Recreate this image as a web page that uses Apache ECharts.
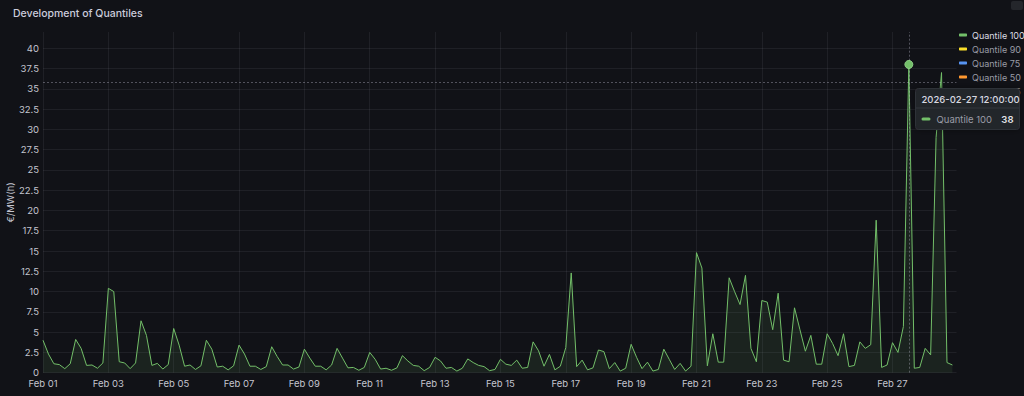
<!DOCTYPE html>
<html><head><meta charset="utf-8">
<script src="https://cdn.jsdelivr.net/npm/echarts@6/dist/echarts.min.js"></script>
<style>html,body{margin:0;padding:0;background:#111217;}#c{width:1024px;height:396px;}</style>
</head><body><div id="c"></div>
<script>
const seriesNames = ['Quantile 100', 'Quantile 90', 'Quantile 75', 'Quantile 50', 'Quantile 25'];
const seriesColors = ['#73BF69', '#FADE2A', '#5794F2', '#FF9830', '#F2495C'];
const stepHours = 4;
// Quantile 100, one value every 4 hours from 2026-02-01 00:00
const q100 = [
  4.0, 2.3, 1.1, 1.0, 0.5, 1.1,
  4.1, 3.0, 0.9, 0.95, 0.55, 1.2,
  10.4, 10.0, 1.35, 1.2, 0.5, 1.2,
  6.4, 4.6, 0.9, 1.15, 0.45, 1.0,
  5.45, 3.4, 0.8, 0.95, 0.4, 0.85,
  4.0, 2.9, 0.7, 0.8, 0.35, 0.85,
  3.4, 2.3, 0.8, 0.8, 0.4, 0.75,
  3.2, 2.0, 0.95, 0.95, 0.45, 0.7,
  2.9, 1.8, 0.8, 0.8, 0.35, 0.95,
  3.0, 1.8, 0.6, 0.65, 0.3, 0.65,
  2.5, 1.65, 0.45, 0.55, 0.3, 0.6,
  2.1, 1.45, 0.9, 0.8, 0.25, 0.65,
  1.9, 1.45, 0.55, 0.65, 0.2, 0.55,
  1.7, 1.25, 0.9, 0.75, 0.25, 0.4,
  1.65, 1.05, 0.9, 1.55, 0.55, 0.65,
  3.8, 2.7, 0.8, 2.25, 0.35, 0.8,
  3.1, 12.3, 0.75, 1.55, 0.35, 0.6,
  2.8, 2.6, 0.5, 1.25, 0.2, 0.55,
  3.5, 1.9, 0.5, 1.3, 0.2, 0.4,
  2.9, 1.65, 0.4, 1.15, 0.2, 0.8,
  14.8, 12.9, 0.85, 4.8, 1.3, 1.3,
  11.7, 10.0, 8.4, 12.0, 3.0, 1.35,
  8.9, 8.7, 5.3, 9.8, 1.55, 1.35,
  8.0, 5.3, 2.65, 4.6, 1.05, 1.05,
  4.8, 3.6, 2.1, 4.8, 0.75, 0.9,
  3.8, 3.0, 3.45, 18.8, 0.65, 0.95,
  3.7, 2.5, 5.7, 38, 0.55, 0.65,
  3.0, 2.2, 29, 37, 1.25, 0.95
];
const xTickHours = [0, 48, 96, 144, 192, 240, 288, 336, 384, 432, 480, 528, 576, 624];
const xTickLabels = ['Feb 01', 'Feb 03', 'Feb 05', 'Feb 07', 'Feb 09', 'Feb 11', 'Feb 13', 'Feb 15', 'Feb 17', 'Feb 19', 'Feb 21', 'Feb 23', 'Feb 25', 'Feb 27'];
const yTicks = [0, 2.5, 5, 7.5, 10, 12.5, 15, 17.5, 20, 22.5, 25, 27.5, 30, 32.5, 35, 37.5, 40];
const xAxisMaxHours = 671;
const yAxisMax = 42;
const hoverIndex = 159;
const hoverTimeLabel = '2026-02-27 12:00:00';
const cursorYValue = 35.8;

const FONT = 'Inter, "Noto Sans", sans-serif';
const labelColor = '#c4c5cf';
const gridColor = 'rgba(204,204,220,0.08)';

const chart = echarts.init(document.getElementById('c'), null, {renderer: 'svg'});
const pairs = q100.map((v, i) => [i * stepHours, v]);
const hoverX = hoverIndex * stepHours;

const series = seriesNames.map((name, k) => ({
  name: name,
  type: 'line',
  data: k === 0 ? pairs : [],
  showSymbol: false,
  symbol: 'none',
  color: seriesColors[k],
  lineStyle: {width: 1, color: seriesColors[k]},
  itemStyle: {color: seriesColors[k]},
  areaStyle: k === 0 ? {color: seriesColors[k], opacity: 0.1} : undefined,
  silent: true,
  z: 3
}));

series[0].markLine = {
  silent: true, symbol: 'none', animation: false,
  label: {show: false},
  lineStyle: {color: 'rgba(204,204,220,0.35)', type: [2, 2], width: 1},
  data: [{xAxis: hoverX}, {yAxis: cursorYValue}]
};
series[0].markPoint = {
  silent: true, animation: false,
  symbol: 'circle', symbolSize: 8,
  itemStyle: {color: '#73BF69', borderColor: '#8fd186', borderWidth: 1},
  label: {show: false},
  data: [{coord: [hoverX, q100[hoverIndex]]}]
};

const legendData = seriesNames.map((n, k) => ({
  name: n,
  textStyle: {color: k === 0 ? '#dcdde3' : '#9a9ca6'}
}));

chart.setOption({
  backgroundColor: '#111217',
  animation: false,
  title: {
    text: 'Development of Quantiles', left: 8, top: 3,
    textStyle: {color: '#ccccdc', fontSize: 10.5, fontWeight: 500, fontFamily: FONT}
  },
  legend: {
    orient: 'vertical', left: 959, top: 29, padding: 0,
    icon: 'roundRect', itemWidth: 8, itemHeight: 3, itemGap: 2,
    textStyle: {fontSize: 9, fontFamily: FONT, lineHeight: 12, overflow: 'none'},
    selectedMode: false,
    data: legendData,
    z: 2
  },
  grid: {left: 43, right: 67.5, top: 32, bottom: 23.3, containLabel: false, outerBoundsMode: 'none'},
  xAxis: {
    type: 'value', min: 0, max: xAxisMaxHours,
    axisLine: {show: false}, axisTick: {show: false, customValues: xTickHours},
    splitLine: {show: true, lineStyle: {color: gridColor, width: 1}},
    axisLabel: {
      customValues: xTickHours,
      formatter: v => { const j = xTickHours.indexOf(v); return j >= 0 ? xTickLabels[j] : ''; },
      color: labelColor, fontSize: 9.5, fontFamily: FONT, margin: 6
    }
  },
  yAxis: {
    type: 'value', min: 0, max: yAxisMax,
    name: '€/MW(h)', nameLocation: 'middle', nameGap: 28, nameRotate: 90, nameMoveOverlap: false,
    nameTextStyle: {color: labelColor, fontSize: 9.5, fontFamily: FONT},
    axisLine: {show: false}, axisTick: {show: false, customValues: yTicks},
    splitLine: {show: true, lineStyle: {color: gridColor, width: 1}},
    axisLabel: {
      customValues: yTicks,
      formatter: v => String(v),
      color: labelColor, fontSize: 9.5, fontFamily: FONT, margin: 4
    }
  },
  series: series,
  graphic: [
    {type: 'rect', left: 1011, top: 1, z: 50, shape: {width: 12, height: 9, r: 2}, style: {fill: '#24262b'}, silent: true},
    {
      type: 'group', left: 913, top: 88, z: 100, zlevel: 1, silent: true,
      children: [
        {type: 'rect', z: 100, zlevel: 1, shape: {x: 0, y: 0, width: 104, height: 41, r: 3}, style: {fill: '#22252b', stroke: '#2e3137', lineWidth: 1, shadowBlur: 6, shadowColor: 'rgba(0,0,0,0.4)'}},
        {type: 'text', z: 101, zlevel: 1, style: {x: 6, y: 10.5, text: hoverTimeLabel, fill: '#d8d9e0', font: '500 9.5px ' + FONT, textVerticalAlign: 'middle'}},
        {type: 'line', z: 101, zlevel: 1, shape: {x1: 0, y1: 19.5, x2: 104, y2: 19.5}, style: {stroke: '#33363d', lineWidth: 1}},
        {type: 'rect', z: 101, zlevel: 1, shape: {x: 6, y: 29, width: 9, height: 3, r: 1.5}, style: {fill: seriesColors[0]}},
        {type: 'text', z: 101, zlevel: 1, style: {x: 21, y: 30.5, text: seriesNames[0], fill: '#9a9ca6', font: '9.5px ' + FONT, textVerticalAlign: 'middle'}},
        {type: 'text', z: 101, zlevel: 1, style: {x: 98, y: 30.5, text: String(q100[hoverIndex]), fill: '#e2e3e8', font: '600 9.5px ' + FONT, textAlign: 'right', textVerticalAlign: 'middle'}}
      ]
    }
  ]
});
</script></body></html>
